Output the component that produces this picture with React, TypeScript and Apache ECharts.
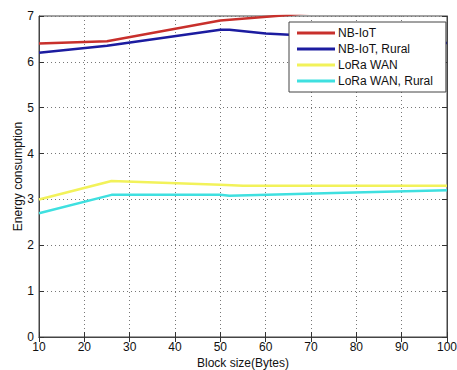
import React, { useEffect, useRef } from "react";
import * as echarts from "echarts";

const seriesNames = ["NB-IoT", "NB-IoT, Rural", "LoRa WAN", "LoRa WAN, Rural"];
const nbIot: [number, number][] = [[10, 6.4], [25, 6.45], [50, 6.9], [65, 7.02], [100, 7.4]];
const nbIotRural: [number, number][] = [[10, 6.2], [25, 6.35], [50, 6.7], [52, 6.7], [60, 6.62], [100, 6.41]];
const loraWan: [number, number][] = [[10, 3.0], [26, 3.4], [50, 3.32], [55, 3.3], [100, 3.3]];
const loraWanRural: [number, number][] = [[10, 2.7], [26, 3.1], [50, 3.1], [52, 3.08], [75, 3.14], [100, 3.2]];
const colors = ["#c8302c", "#1c1ca0", "#f2f25a", "#3fe0e0"];

export default function App() {
  const ref = useRef<HTMLDivElement>(null);
  useEffect(() => {
    const chart = echarts.init(ref.current!, undefined, { renderer: "svg" });
    const font = "Liberation Sans, Arial, sans-serif";
    const tick = { show: true, inside: true, length: 5, lineStyle: { color: "#333" } };
    const split = { show: true, lineStyle: { type: [1, 3] as any, color: "#777", width: 1 } };
    const data = [nbIot, nbIotRural, loraWan, loraWanRural];
    chart.setOption({
      animation: false,
      backgroundColor: "#fff",
      textStyle: { fontFamily: font },
      grid: { left: 39, right: 10, top: 16, bottom: 33, show: true, borderColor: "#444", borderWidth: 1, outerBoundsMode: "none", containLabel: false },
      legend: {
        left: 289,
        top: 22,
        orient: "vertical",
        icon: "rect",
        itemWidth: 38,
        itemHeight: 3,
        itemGap: 4,
        padding: [5, 13, 5, 8],
        backgroundColor: "#fff",
        borderColor: "#444",
        borderWidth: 1,
        borderRadius: 0,
        textStyle: { fontSize: 12, color: "#111", fontFamily: font, padding: [0, 0, 0, -2] },
        data: seriesNames,
      },
      xAxis: [
        {
          type: "value",
          min: 10,
          max: 100,
          interval: 10,
          name: "Block size(Bytes)",
          nameLocation: "middle",
          nameGap: 20,
          nameMoveOverlap: false,
          nameTextStyle: { fontSize: 12, color: "#111", fontFamily: font },
          axisLine: { show: true, lineStyle: { color: "#444" } },
          axisTick: tick,
          axisLabel: { fontSize: 12, color: "#111", margin: 4, fontFamily: font },
          splitLine: split,
        },
        {
          type: "value",
          position: "top",
          min: 10,
          max: 100,
          interval: 10,
          axisLine: { show: true, lineStyle: { color: "#444" } },
          axisTick: tick,
          axisLabel: { show: false },
          splitLine: { show: false },
        },
      ],
      yAxis: [
        {
          type: "value",
          min: 0,
          max: 7,
          interval: 1,
          name: "Energy consumption",
          nameLocation: "middle",
          nameGap: 15,
          nameMoveOverlap: false,
          nameTextStyle: { fontSize: 12, color: "#111", fontFamily: font },
          axisLine: { show: true, lineStyle: { color: "#444" } },
          axisTick: tick,
          axisLabel: { fontSize: 12, color: "#111", margin: 5, fontFamily: font },
          splitLine: split,
        },
        {
          type: "value",
          position: "right",
          min: 0,
          max: 7,
          interval: 1,
          axisLine: { show: true, lineStyle: { color: "#444" } },
          axisTick: tick,
          axisLabel: { show: false },
          splitLine: { show: false },
        },
      ],
      series: seriesNames.map((name, i) => ({
        name,
        type: "line",
        data: data[i],
        symbol: "none",
        clip: true,
        lineStyle: { color: colors[i], width: 2.5 },
        itemStyle: { color: colors[i] },
      })),
    });
    return () => chart.dispose();
  }, []);
  return <div ref={ref} style={{ width: 457, height: 370, position: "absolute", left: 0, top: 0 }} />;
}
